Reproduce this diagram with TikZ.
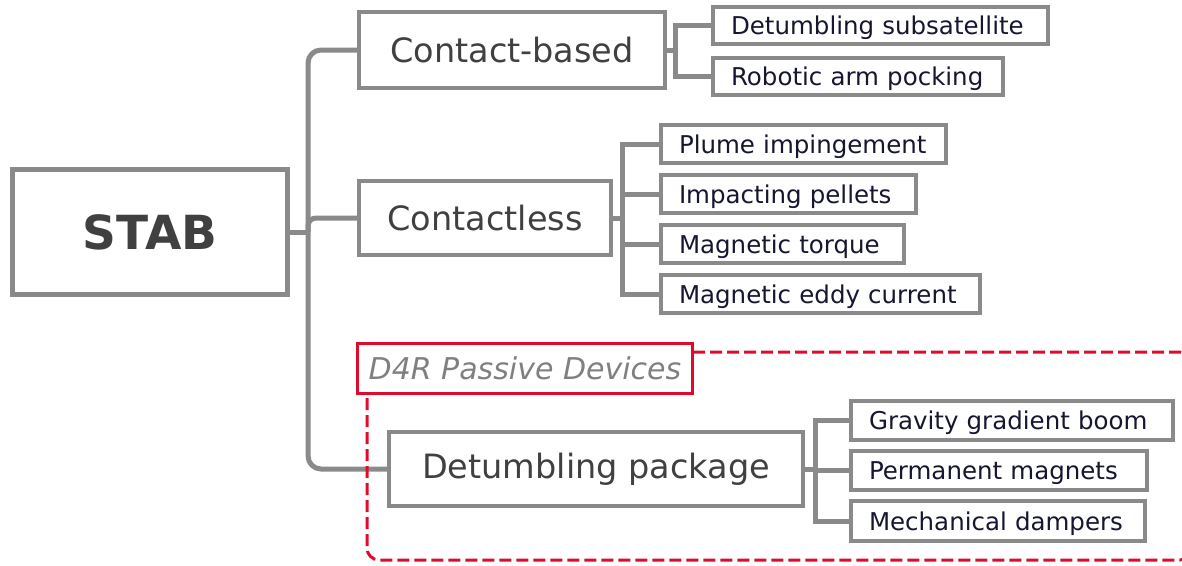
\documentclass[tikz,border=0pt]{standalone}
\usepackage{fontspec}
\setmainfont{DejaVu Sans}
\usetikzlibrary{backgrounds}
\definecolor{lgray}{RGB}{138,138,138}
\definecolor{maintext}{RGB}{64,64,64}
\definecolor{leaftext}{RGB}{22,22,48}
\definecolor{tagtext}{RGB}{128,128,128}
\definecolor{dred}{RGB}{224,10,45}
\begin{document}
\begin{tikzpicture}[x=1pt,y=-1pt,
  conn/.style={draw=lgray, line width=5pt},
  rootbox/.style={draw=lgray, line width=5pt, fill=white, inner sep=0pt,
    text=maintext, font=\fontsize{47}{56}\selectfont\bfseries},
  mainbox/.style={draw=lgray, line width=4pt, fill=white, inner sep=0pt,
    text=maintext, font=\fontsize{33.5}{40}\selectfont},
  leafbox/.style={draw=lgray, line width=4pt, fill=white, inner xsep=18pt,
    inner ysep=0pt, anchor=west, align=left, minimum height=37pt,
    text height=18pt, text depth=0pt,
    text=leaftext, font=\fontsize{24.5}{29}\selectfont},
  tagbox/.style={draw=dred, line width=3pt, fill=white, inner sep=0pt,
    text=tagtext, font=\fontsize{30}{36}\selectfont\itshape},
  groupframe/.style={draw=dred, line width=3pt, dash pattern=on 12pt off 5pt,
    rounded corners=12pt}
]
\useasboundingbox (0,0) rectangle (1182,565);

% root and first-level categories
\node[rootbox, minimum width=275pt, minimum height=125pt] (stab) at (150,232) {STAB};
\node[mainbox, minimum width=306pt, minimum height=76pt] (cb) at (512,50) {Contact-based};
\node[mainbox, minimum width=252pt, minimum height=74pt] (cl) at (485,218) {Contactless};
\node[mainbox, minimum width=414pt, minimum height=74pt] (dp) at (596,469) {Detumbling package};

% leaves of the contact-based branch
\node[leafbox, text width=299pt] (cb1) at (711,25.5) {Detumbling subsatellite};
\node[leafbox, text width=254pt] (cb2) at (711,76.5) {Robotic arm pocking};

% leaves of the contactless branch
\node[leafbox, text width=249pt, minimum height=38pt] (cl1) at (659,144) {Plume impingement};
\node[leafbox, text width=219pt, minimum height=38pt] (cl2) at (659,194) {Impacting pellets};
\node[leafbox, text width=207pt, minimum height=38pt] (cl3) at (659,244) {Magnetic torque};
\node[leafbox, text width=283pt, minimum height=38pt] (cl4) at (659,294) {Magnetic eddy current};

% leaves of the detumbling package
\node[leafbox, text width=286pt, minimum height=39pt] (dp1) at (849,420.5) {Gravity gradient boom};
\node[leafbox, text width=260pt, minimum height=39pt] (dp2) at (849,470.5) {Permanent magnets};
\node[leafbox, text width=258pt, minimum height=40pt] (dp3) at (849,521) {Mechanical dampers};

\begin{pgfonlayer}{background}
  % trunk from the root
  \coordinate (j) at (308,232);
  \draw[conn] (stab.east) -- (j);
  \draw[conn, rounded corners=13pt] (j) |- (cb.west);
  \draw[conn, rounded corners=8pt] (j) |- (cl.west);
  \draw[conn, rounded corners=13pt] (j) |- (dp.west);

  % brackets to the leaves
  \foreach \c in {cb1,cb2} \draw[conn] (cb.east) -- ++(8,0) |- (\c.west);
  \foreach \c in {cl1,cl2,cl3,cl4} \draw[conn] (cl.east) -- ++(9,0) |- (\c.west);
  \foreach \c in {dp1,dp2,dp3} \draw[conn] (dp.east) -- ++(10,0) |- (\c.west);
\end{pgfonlayer}

% dashed frame of the passive devices group
\draw[groupframe] (367,352) rectangle (1192,560);
\node[tagbox, minimum width=335pt, minimum height=50pt] (tag) at (525,368.5) {D4R Passive Devices};
\end{tikzpicture}
\end{document}
